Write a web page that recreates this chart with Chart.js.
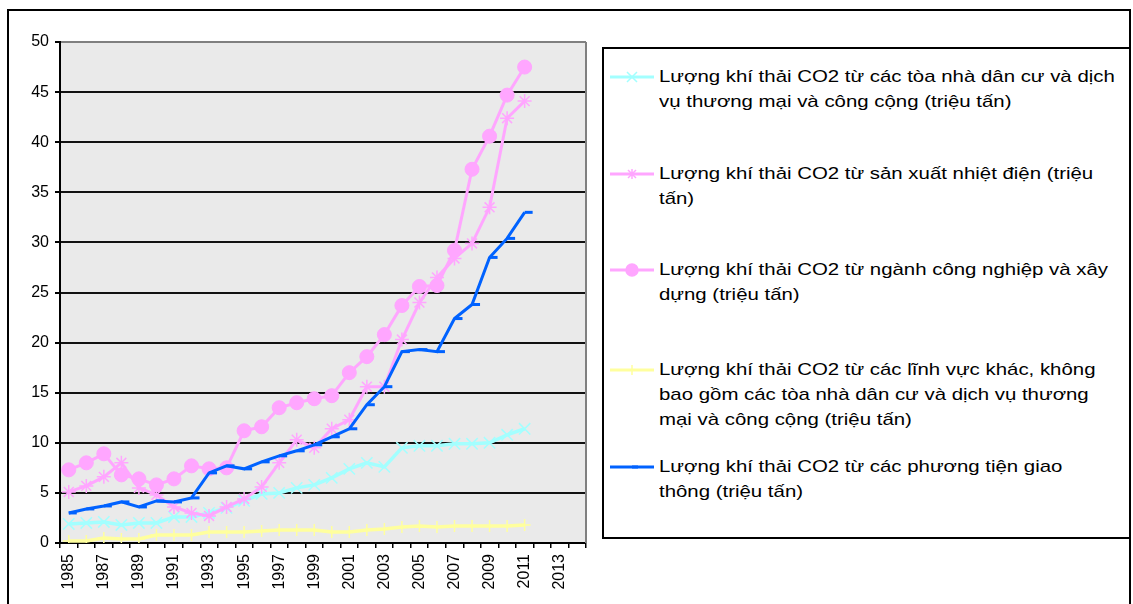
<!DOCTYPE html>
<html>
<head>
<meta charset="utf-8">
<script src="https://cdn.jsdelivr.net/npm/chart.js@4.4.1/dist/chart.umd.min.js"></script>
<style>
  body { margin: 0; background: #fff; width: 1133px; height: 604px; overflow: hidden; position: relative;
         font-family: "Liberation Sans", Arial, sans-serif; }
  #frame { position: absolute; left: 7px; top: 9px; width: 1120px; height: 700px; border: 2px solid #000; }
  #wrap { position: absolute; left: 0; top: 0; width: 1133px; height: 604px; }
  #legend { position: absolute; left: 602px; top: 47px; width: 525px; height: 488px; border: 2px solid #000;
            background: #fff; overflow: hidden; }
  .item { position: absolute; left: 0; width: 100%; white-space: nowrap; }
  .item canvas { position: absolute; left: 6px; top: 3px; }
  .txt { position: absolute; left: 55px; top: 0; font-size: 17px; line-height: 25px; color: #000;
         transform-origin: 0 0; }
</style>
</head>
<body>
<div id="frame"></div>
<div id="wrap"><canvas id="co2Chart"></canvas></div>
<div id="legend"></div>

<script>
const years = ['1985', '1986', '1987', '1988', '1989', '1990', '1991', '1992', '1993', '1994',
  '1995', '1996', '1997', '1998', '1999', '2000', '2001', '2002', '2003', '2004',
  '2005', '2006', '2007', '2008', '2009', '2010', '2011', '2012', '2013', '2014'];

const residential = [1.9, 2.0, 2.1, 1.8, 2.0, 2.0, 2.6, 2.6, 3.0, 3.5, 4.2, 4.9, 5.0, 5.5, 5.8,
  6.5, 7.4, 8.0, 7.6, 9.5, 9.7, 9.7, 9.9, 9.9, 10.0, 10.8, 11.4];
const thermal = [5.1, 5.7, 6.6, 8.0, 5.5, 4.8, 3.6, 3.0, 2.7, 3.6, 4.4, 5.6, 8.0, 10.3, 9.5,
  11.4, 12.3, 15.6, 15.6, 20.3, 24.0, 26.5, 28.4, 29.9, 33.5, 42.4, 44.1];
const industry = [7.3, 8.0, 8.9, 6.8, 6.4, 5.8, 6.4, 7.7, 7.4, 7.5, 11.2, 11.6, 13.5, 14.0, 14.4,
  14.7, 17.0, 18.6, 20.8, 23.7, 25.6, 25.7, 29.2, 37.3, 40.6, 44.7, 47.5];
const other = [0.2, 0.2, 0.5, 0.4, 0.4, 0.8, 0.8, 0.8, 1.1, 1.1, 1.1, 1.2, 1.3, 1.3, 1.3,
  1.1, 1.1, 1.3, 1.4, 1.6, 1.7, 1.6, 1.7, 1.7, 1.7, 1.7, 1.8];
const transport = [3.0, 3.4, 3.7, 4.1, 3.6, 4.2, 4.1, 4.5, 7.0, 7.7, 7.4, 8.1, 8.7, 9.2, 9.8,
  10.6, 11.4, 13.8, 15.6, 19.1, 19.3, 19.1, 22.4, 23.8, 28.5, 30.4, 33.0];

const legendLines = [
  ['Lượng khí thải CO2 từ các tòa nhà dân cư và dịch', 'vụ thương mại và công cộng (triệu tấn)'],
  ['Lượng khí thải CO2 từ sản xuất nhiệt điện (triệu', 'tấn)'],
  ['Lượng khí thải CO2 từ ngành công nghiệp và xây', 'dựng (triệu tấn)'],
  ['Lượng khí thải CO2 từ các lĩnh vực khác, không', 'bao gồm các tòa nhà dân cư và dịch vụ thương', 'mại và công cộng (triệu tấn)'],
  ['Lượng khí thải CO2 từ các phương tiện giao', 'thông (triệu tấn)']
];
const legendTops = [15, 112, 208, 308, 405];

const cyan = '#a3ffff';
const pink = '#ffa6ff';
const yellow = '#ffff9e';
const blue = '#0062ff';

const series = [
  { label: legendLines[0].join(' '), data: residential, color: cyan, style: 'crossRot', r: 8, width: 3.5, order: 5 },
  { label: legendLines[1].join(' '), data: thermal, color: pink, style: 'star', r: 7, width: 3, order: 4 },
  { label: legendLines[2].join(' '), data: industry, color: pink, style: 'circle', r: 7, width: 3, order: 3 },
  { label: legendLines[3].join(' '), data: other, color: yellow, style: 'cross', r: 6, width: 3.5, order: 2 },
  { label: legendLines[4].join(' '), data: transport, color: blue, style: 'dash', r: 8, width: 3, order: 1 }
];

const plotBg = {
  id: 'plotBg',
  beforeDraw(chart) {
    const { ctx, chartArea: a } = chart;
    ctx.save();
    ctx.fillStyle = '#eaeaea';
    ctx.fillRect(a.left, a.top, a.right - a.left, a.bottom - a.top);
    ctx.restore();
  },
  beforeDatasetsDraw(chart) {
    const { ctx, chartArea: a } = chart;
    ctx.save();
    ctx.strokeStyle = '#808080';
    ctx.lineWidth = 2;
    ctx.beginPath();
    ctx.moveTo(a.right, a.top);
    ctx.lineTo(a.right, a.bottom);
    ctx.stroke();
    ctx.restore();
  }
};

const ctx = document.getElementById('co2Chart').getContext('2d');
const chart = new Chart(ctx, {
  type: 'line',
  data: {
    labels: years,
    datasets: series.map(s => ({
      label: s.label,
      data: s.data,
      borderColor: s.color,
      backgroundColor: s.color,
      borderWidth: s.width,
      pointStyle: s.style,
      pointRadius: s.r,
      pointBorderWidth: s.style === 'circle' ? 1 : (s.style === 'dash' ? 3 : 1.5),
      pointBorderColor: s.color,
      pointBackgroundColor: s.color,
      tension: 0,
      order: s.order
    }))
  },
  options: {
    responsive: true,
    maintainAspectRatio: false,
    animation: false,
    layout: { padding: { left: 8, top: 42, right: 547, bottom: 0 } },
    plugins: { legend: { display: false }, tooltip: { enabled: false } },
    scales: {
      x: {
        offset: true,
        afterFit(scale) { scale.height = 61; },
        border: { color: '#000', width: 2 },
        grid: { offset: true, drawOnChartArea: false, drawTicks: true, tickLength: 5, color: '#000', lineWidth: 1.5 },
        ticks: {
          autoSkip: false,
          minRotation: 90,
          maxRotation: 90,
          padding: 6,
          color: '#000',
          font: { family: '"Liberation Sans", Arial, sans-serif', size: 16 },
          callback: (v, i) => (i % 2 === 0 ? years[i] : '')
        }
      },
      y: {
        min: 0,
        max: 50,
        afterFit(scale) { scale.width = 52; },
        border: { color: '#000', width: 2 },
        grid: {
          color: c => (c.tick && c.tick.value === 50 ? '#808080' : '#111'),
          lineWidth: 2,
          tickLength: 5,
          tickColor: '#000'
        },
        ticks: {
          stepSize: 5,
          padding: 6,
          color: '#000',
          font: { family: '"Liberation Sans", Arial, sans-serif', size: 16 }
        }
      }
    }
  },
  plugins: [plotBg]
});

function drawMarker(c, s) {
  const g = c.getContext('2d');
  const y = 10, x = 22;
  g.strokeStyle = s.color;
  g.fillStyle = s.color;
  g.lineWidth = 3;
  g.beginPath();
  g.moveTo(0, y);
  g.lineTo(44, y);
  g.stroke();
  g.lineWidth = 1.5;
  g.beginPath();
  const r = 5;
  if (s.style === 'crossRot') {
    g.moveTo(x - r, y - r); g.lineTo(x + r, y + r);
    g.moveTo(x + r, y - r); g.lineTo(x - r, y + r);
  } else if (s.style === 'star') {
    g.moveTo(x - r, y); g.lineTo(x + r, y);
    g.moveTo(x, y - r); g.lineTo(x, y + r);
    g.moveTo(x - 4, y - 4); g.lineTo(x + 4, y + 4);
    g.moveTo(x + 4, y - 4); g.lineTo(x - 4, y + 4);
  } else if (s.style === 'circle') {
    g.arc(x, y, 6, 0, Math.PI * 2);
    g.fill();
  } else if (s.style === 'cross') {
    g.moveTo(x, y - r); g.lineTo(x, y + r);
  } else if (s.style === 'dash') {
    g.lineWidth = 3;
    g.moveTo(x, y); g.lineTo(x + 6, y);
  }
  g.stroke();
}

const legend = document.getElementById('legend');
series.forEach((s, i) => {
  const item = document.createElement('div');
  item.className = 'item';
  item.style.top = legendTops[i] + 'px';
  const c = document.createElement('canvas');
  c.width = 44;
  c.height = 20;
  drawMarker(c, s);
  item.appendChild(c);
  const t = document.createElement('div');
  t.className = 'txt';
  legendLines[i].forEach((line, k) => {
    if (k > 0) t.appendChild(document.createElement('br'));
    const sp = document.createElement('span');
    sp.textContent = line;
    t.appendChild(sp);
  });
  item.appendChild(t);
  legend.appendChild(item);
});

// stretch the legend text to the width seen in the original picture
const ref = legend.querySelectorAll('.item')[2].querySelector('span');
const k = 449 / ref.getBoundingClientRect().width;
legend.querySelectorAll('.txt').forEach(t => { t.style.transform = 'scaleX(' + k + ')'; });
</script>
</body>
</html>
